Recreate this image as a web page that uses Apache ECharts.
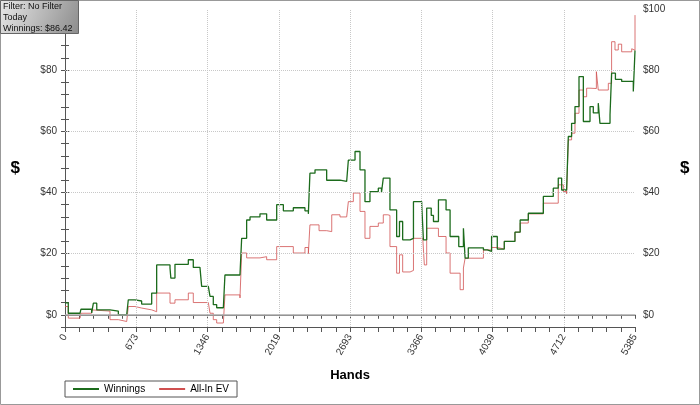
<!DOCTYPE html>
<html>
<head>
<meta charset="UTF-8">
<script src="https://cdn.jsdelivr.net/npm/echarts@6/dist/echarts.min.js"></script>
<style>body{margin:0;background:#fff}#main{width:700px;height:405px}</style>
</head>
<body>
<div id="main"></div>
<script>
// Winnings (green)
var winHands = [0, 31, 142, 150, 252, 268, 300, 425, 504, 583, 598, 661, 724, 819, 866, 992, 1000, 1039, 1165, 1212, 1275, 1291, 1354, 1370, 1401, 1433, 1496, 1511, 1653, 1669, 1716, 1748, 1842, 1905, 2000, 2063, 2157, 2267, 2299, 2314, 2362, 2472, 2598, 2661, 2677, 2740, 2787, 2834, 2881, 2960, 2990, 3007, 3050, 3070, 3133, 3160, 3190, 3260, 3292, 3370, 3386, 3417, 3460, 3481, 3528, 3600, 3638, 3720, 3764, 3780, 3810, 3953, 3990, 4030, 4084, 4150, 4251, 4300, 4377, 4519, 4613, 4660, 4692, 4739, 4755, 4786, 4818, 4856, 4897, 4960, 4991, 5038, 5054, 5149, 5164, 5200, 5259, 5338, 5369, 5385];
var winVals  = [3.9, 0.5, 0.5, 1.8, 0.6, 3.8, 1.6, 1.2, 0, 0, 4.9, 4.5, 3.5, 7.1, 16.3, 15.3, 12, 16.5, 18, 15.5, 15, 9.3, 9.8, 6, 3.3, 2.3, 2.3, 13, 12.5, 25, 31, 32, 33, 31, 36, 34, 35, 34, 33, 46.3, 47.4, 44, 43.6, 43.6, 50.6, 53.4, 47.4, 37, 40.3, 41.4, 40, 44.7, 44.7, 34.3, 25.6, 30.5, 24.5, 25, 37, 36, 24.5, 34.9, 32.5, 30.5, 37.6, 34.3, 25.6, 22.3, 28.3, 18.5, 21.9, 21.2, 20.7, 25.6, 21.5, 24, 27, 31, 33.2, 38.7, 41.4, 44.7, 40.8, 40.8, 58.3, 62.6, 68.1, 77.9, 63.2, 68.1, 66, 69.2, 62.6, 65.4, 79, 77, 76.3, 76.3, 73, 86.42];
// All-In EV (red)
var evHands = [0, 31, 142, 150, 252, 268, 425, 504, 583, 598, 661, 724, 819, 866, 992, 1039, 1165, 1212, 1354, 1370, 1401, 1433, 1496, 1511, 1653, 1669, 1716, 1842, 1905, 2000, 2157, 2267, 2299, 2314, 2400, 2472, 2520, 2598, 2661, 2677, 2724, 2787, 2834, 2881, 2960, 3007, 3050, 3070, 3133, 3160, 3190, 3260, 3292, 3380, 3395, 3417, 3528, 3600, 3638, 3733, 3764, 3780, 3953, 4030, 4084, 4150, 4251, 4300, 4377, 4519, 4660, 4708, 4739, 4755, 4786, 4818, 4856, 4897, 4928, 4960, 5020, 5038, 5133, 5149, 5164, 5196, 5227, 5259, 5354, 5369, 5385];
var evVals  = [2.7, -1.1, -0.5, 0.5, 1.6, 1.2, -1.6, -2.2, -2.2, 2.7, 2.2, 1.6, 1, 7.1, 3.8, 4.9, 7.1, 4, 4, 0.5, -1.6, -2.7, -2.5, 6.5, 5.5, 20.2, 18.6, 19, 18, 22.3, 20.2, 22, 20, 29.4, 27.5, 27.2, 32.7, 32, 32.5, 37, 39.8, 33.8, 25, 28.9, 30, 32.7, 32.5, 22.3, 13.6, 19.6, 14, 14.5, 25, 25.5, 16.3, 28.3, 25.6, 20.2, 13.6, 8.2, 15.3, 18.5, 21.2, 22, 21.5, 24, 27, 30, 33, 36.5, 42.5, 40.3, 39.6, 57.2, 59.4, 65.9, 73.5, 71.3, 74.1, 74, 79.5, 73.5, 75.7, 75.7, 89.3, 86.6, 88.5, 86, 87, 86.5, 98];
var xLabelStep = 673.125;
var yLabels = [0, 20, 40, 60, 80, 100];

function pairs(h, v) { return h.map(function (x, i) { return [x, v[i]]; }); }

var chart = echarts.init(document.getElementById('main'));
var font = 'Arial, "Liberation Sans", sans-serif';
var gridX = [];
for (var k = 1; k < 8; k++) gridX.push({ xAxis: k * xLabelStep });
var gridY = yLabels.slice(1, 5).map(function (v) { return { yAxis: v }; });

var yAxisCommon = {
  type: 'value', min: -4, max: 100, interval: 4,
  name: '$', nameLocation: 'middle', nameGap: 45, nameRotate: 0,
  nameTextStyle: { fontSize: 17, fontWeight: 'bold', color: '#000' },
  axisLine: { show: true, lineStyle: { color: '#555' } },
  axisTick: { show: true, length: 4, lineStyle: { color: '#555' } },
  splitLine: { show: false },
  axisLabel: {
    fontFamily: font, fontSize: 10, color: '#333',
    formatter: function (v) { return v % 20 === 0 && v >= 0 ? '$' + v : ''; }
  }
};

chart.setOption({
  animation: false,
  grid: { left: 65, right: 65, top: 9, bottom: 78 },
  graphic: [
    { type: 'rect', z: 100, shape: { x: 0.5, y: 0.5, width: 699, height: 404 }, style: { fill: 'none', stroke: '#999' } },
    { type: 'rect', z: 100, shape: { x: 0.5, y: 0.5, width: 78, height: 33 },
      style: { stroke: '#666', fill: new echarts.graphic.LinearGradient(0, 0, 1, 1, [{ offset: 0, color: '#e8e8e8' }, { offset: 1, color: '#8c8c8c' }]) } },
    { type: 'text', z: 101, left: 3, top: 1, style: { text: 'Filter: No Filter\nToday\nWinnings: $86.42', font: '9px ' + font, fill: '#111', lineHeight: 11 } }
  ],
  legend: {
    left: 65, top: 381, itemWidth: 26, itemHeight: 2, itemGap: 14,
    orient: 'horizontal', icon: 'rect',
    borderColor: '#555', borderWidth: 1, padding: [3, 8],
    textStyle: { fontFamily: font, fontSize: 10, color: '#000' },
    data: ['Winnings', 'All-In EV']
  },
  xAxis: [{
    type: 'value', min: 0, max: 5385, interval: xLabelStep / 5,
    name: 'Hands', nameLocation: 'middle', nameGap: 42,
    nameTextStyle: { fontSize: 13, fontWeight: 'bold', color: '#000', fontFamily: font },
    axisLine: { onZero: false, lineStyle: { color: '#555' } },
    axisTick: { length: 5, lineStyle: { color: '#555' } },
    splitLine: { show: false },
    axisLabel: {
      rotate: 60, fontFamily: font, fontSize: 10, color: '#333', margin: 8,
      formatter: function (v) {
        return Math.round(v / (xLabelStep / 5)) % 5 === 0 ? String(Math.round(v)) : '';
      }
    }
  }, {
    type: 'value', min: 0, max: 5385, interval: xLabelStep / 5, position: 'top',
    axisLine: { lineStyle: { color: '#555' } },
    axisTick: { inside: true, length: 4, lineStyle: { color: '#555' } },
    axisLabel: { show: false }, splitLine: { show: false }
  }],
  yAxis: [
    Object.assign({}, yAxisCommon, { position: 'left' }),
    Object.assign({}, yAxisCommon, { position: 'right' })
  ],
  series: [{
    name: 'All-In EV', type: 'line', data: pairs(evHands, evVals), step: 'end',
    showSymbol: false, symbol: 'none', z: 3,
    lineStyle: { color: '#d05050', width: 0.8 }, itemStyle: { color: '#d05050' },
    markLine: {
      silent: true, symbol: 'none', label: { show: false },
      lineStyle: { color: '#c8c8c8', type: 'dotted', width: 1 },
      data: gridX.concat(gridY)
    }
  }, {
    name: 'Winnings', type: 'line', data: pairs(winHands, winVals), step: 'end',
    showSymbol: false, symbol: 'none', z: 4,
    lineStyle: { color: '#1c6b1c', width: 1.3 }, itemStyle: { color: '#1c6b1c' },
    markLine: {
      silent: true, symbol: 'none', label: { show: false },
      lineStyle: { color: '#aaa', type: 'solid', width: 1.5 },
      data: [{ yAxis: 0 }]
    }
  }]
});
</script>
</body>
</html>
